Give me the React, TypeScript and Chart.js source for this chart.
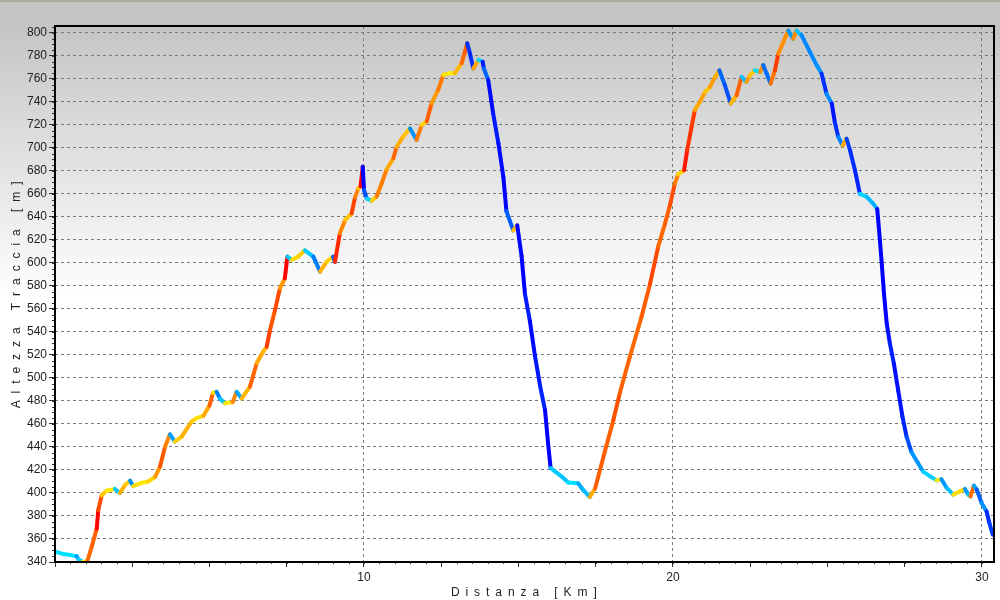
import React, { useEffect, useRef } from "react";
import { Chart, registerables } from "chart.js";

Chart.register(...registerables);

// ---- data ----
const distanceKm = [
  0.0, 0.26, 0.5, 0.7, 0.75, 0.9, 1.05, 1.19, 1.35, 1.4, 1.51, 1.67, 1.94, 2.1, 2.27, 2.43, 2.53, 2.75,
  3.02, 3.24, 3.4, 3.56, 3.72, 3.88, 4.1, 4.42, 4.58, 4.8, 5.0, 5.11, 5.23, 5.34, 5.5, 5.75, 5.88, 6.04,
  6.31, 6.53, 6.74, 6.85, 6.96, 7.12, 7.28, 7.44, 7.52, 7.66, 7.87, 8.09, 8.36, 8.58, 8.79, 9.0, 9.06,
  9.22, 9.39, 9.6, 9.71, 9.82, 9.89, 9.96, 10.0, 10.09, 10.25, 10.41, 10.57, 10.73, 10.95, 11.06, 11.27,
  11.49, 11.7, 11.87, 12.03, 12.19, 12.4, 12.57, 12.78, 12.94, 13.16, 13.27, 13.34, 13.43, 13.54, 13.7,
  13.84, 13.88, 14.02, 14.18, 14.35, 14.51, 14.61, 14.83, 14.96, 15.1, 15.21, 15.37, 15.53, 15.7, 15.86,
  15.96, 16.04, 16.18, 16.4, 16.61, 16.93, 17.1, 17.31, 17.48, 17.8, 18.07, 18.28, 18.6, 18.98, 19.26,
  19.52, 19.74, 19.9, 20.06, 20.17, 20.36, 20.46, 20.6, 20.71, 20.87, 21.04, 21.2, 21.36, 21.5, 21.68,
  21.87, 22.06, 22.22, 22.38, 22.49, 22.65, 22.82, 22.92, 23.03, 23.16, 23.3, 23.41, 23.57, 23.73, 23.89,
  24.0, 24.16, 24.43, 24.65, 24.81, 24.97, 25.14, 25.24, 25.35, 25.49, 25.62, 25.73, 25.89, 26.05, 26.27,
  26.48, 26.61, 26.68, 26.75, 26.83, 26.92, 27.02, 27.15, 27.29, 27.43, 27.56, 27.72, 27.92, 28.1, 28.35,
  28.53, 28.69, 28.86, 29.07, 29.29, 29.45, 29.56, 29.63, 29.74, 29.83, 29.99, 30.15, 30.24, 30.35,
];

const elevationM = [
  349, 347, 346, 345, 342.6, 340, 341, 353.5, 369, 385, 398, 402, 403.5, 400, 407, 410.7, 406, 408.4,
  410, 414, 423, 440, 451, 444.6, 449, 462, 465, 467, 476, 487, 488, 482, 478, 479, 488, 482,
  492.5, 513, 523, 527, 541.7, 559, 578, 586.7, 605.5, 602.6, 605.5, 611, 605.5, 592.5, 601, 605.5, 601,
  625.8, 637.4, 643, 657, 665, 666.4, 683.7, 663.5, 656, 654, 657.7, 669, 681, 691, 701, 710,
  717, 707, 720, 723, 739, 750.4, 763.5, 765, 765, 773.6, 783.7, 791, 782, 769, 776.5,
  775, 769, 759, 730, 704, 675, 645, 628.3, 632.7, 606, 573, 549.5, 519.8, 493, 472,
  442.5, 421.7, 418.8, 414.3, 409.2, 408.4, 402.4, 396.5, 403.9, 436.6, 463.3, 487, 518, 553, 582,
  614, 634, 650, 669, 677, 680.6, 698, 718, 733, 740, 748.7, 753, 761.7, 767.5, 754.5,
  738.6, 745.8, 761.7, 757.4, 763, 767.5, 766, 772, 764.6, 756, 767.5, 782, 792, 802, 795,
  802, 798, 783.5, 772, 764.6, 747, 738.6, 722, 709.6, 702, 708, 698, 680.6, 660, 657.4,
  651.6, 647, 625.5, 602, 573, 547, 530, 512.5, 489, 466, 449, 435.5, 426.5, 418.5, 414,
  411, 412, 404.4, 398.6, 401.4, 403.5, 398.6, 397, 406.4, 403, 391.3, 384, 374, 363.8,
];

const xLabelledTicks = [10, 20, 30];
const xTickStep = 2.5;
const yTickStep = 20;
const xRange = [0, 30.39];
const yRange = [340, 806];
const X_TITLE = "D i s t a n z a   [ K m ]";
const Y_TITLE = "A l t e z z a   T r a c c i a   [ m ]";

// ---- styling helpers ----
type RGB = [number, number, number];
const warmStops: [number, RGB][] = [
  [0, [255, 238, 0]],
  [3, [255, 195, 0]],
  [6, [255, 145, 0]],
  [9, [255, 105, 0]],
  [13, [255, 65, 0]],
  [17, [255, 25, 0]],
  [22, [255, 0, 0]],
];
const coolStops: [number, RGB][] = [
  [0, [0, 230, 255]],
  [2, [0, 205, 255]],
  [5, [0, 140, 255]],
  [10, [0, 50, 255]],
  [20, [0, 0, 255]],
];

function interp(stops: [number, RGB][], v: number): string {
  if (v <= stops[0][0]) return `rgb(${stops[0][1].join(",")})`;
  for (let i = 1; i < stops.length; i++) {
    if (v <= stops[i][0]) {
      const [a, ca] = stops[i - 1];
      const [b, cb] = stops[i];
      const t = (v - a) / (b - a);
      const c = ca.map((x, k) => Math.round(x + (cb[k] - x) * t));
      return `rgb(${c.join(",")})`;
    }
  }
  return `rgb(${stops[stops.length - 1][1].join(",")})`;
}

function gradeColor(x0: number, y0: number, x1: number, y1: number): string {
  const dx = (x1 - x0) * 1000;
  const g = dx > 0 ? ((y1 - y0) / dx) * 100 : 0;
  return g >= 0 ? interp(warmStops, g) : interp(coolStops, -g);
}

const FONT_FAMILY = '"Liberation Sans", Arial, sans-serif';

const framePlugin = {
  id: "frameAndTitles",
  afterDraw(chart: any) {
    const { ctx, chartArea, scales } = chart;
    const { left, top, right, bottom } = chartArea;
    ctx.save();
    // minor ticks
    ctx.strokeStyle = "#333";
    ctx.lineWidth = 1;
    const ys = scales.y;
    for (let v = yRange[0]; v <= yRange[1]; v += 5) {
      const p = Math.round(ys.getPixelForValue(v)) + 0.5;
      ctx.beginPath();
      ctx.moveTo(left - 3, p);
      ctx.lineTo(left, p);
      ctx.stroke();
    }
    const xs = scales.x;
    for (let v = xRange[0]; v <= xRange[1]; v += 0.5) {
      const p = Math.round(xs.getPixelForValue(v)) + 0.5;
      ctx.beginPath();
      ctx.moveTo(p, bottom);
      ctx.lineTo(p, bottom + 2);
      ctx.stroke();
    }
    // frame
    ctx.strokeStyle = "#000";
    ctx.lineWidth = 2;
    ctx.strokeRect(left, top, right - left, bottom - top);
    // titles
    ctx.fillStyle = "#222";
    ctx.font = `12px ${FONT_FAMILY}`;
    ctx.textAlign = "center";
    ctx.textBaseline = "middle";
    (ctx as any).letterSpacing = "1.3px";
    ctx.fillText(X_TITLE, (left + right) / 2, chart.height - 7);
    (ctx as any).letterSpacing = "1.8px";
    ctx.translate(17, (top + bottom) / 2);
    ctx.rotate(-Math.PI / 2);
    ctx.fillText(Y_TITLE, 0, 0);
    (ctx as any).letterSpacing = "0px";
    ctx.restore();
  },
};

export default function App() {
  const canvasRef = useRef<HTMLCanvasElement | null>(null);

  useEffect(() => {
    const canvas = canvasRef.current;
    if (!canvas) return;
    const points = distanceKm.map((x, i) => ({ x, y: elevationM[i] }));
    const chart = new Chart(canvas, {
      type: "line",
      data: {
        datasets: [
          {
            data: points,
            borderWidth: 4,
            borderCapStyle: "round",
            borderJoinStyle: "round",
            pointRadius: 0,
            tension: 0,
            fill: false,
            borderColor: "#ff8000",
            segment: {
              borderColor: (c: any) =>
                gradeColor(c.p0.parsed.x, c.p0.parsed.y, c.p1.parsed.x, c.p1.parsed.y),
            },
          } as any,
        ],
      },
      options: {
        animation: false,
        responsive: false,
        maintainAspectRatio: false,
        layout: { padding: { top: 26, right: 6, left: 0, bottom: 0 } },
        plugins: {
          legend: { display: false },
          tooltip: { enabled: false },
          title: { display: false },
        },
        scales: {
          x: {
            type: "linear",
            min: xRange[0],
            max: xRange[1],
            afterFit: (s: any) => {
              s.height = 38;
            },
            border: { display: false, dash: [3, 3] },
            grid: {
              color: (c: any) =>
                c.tick && xLabelledTicks.some((t) => Math.abs(t - c.tick.value) < 1e-6)
                  ? "#7a7a7a"
                  : "rgba(0,0,0,0)",
              tickColor: "#333",
              tickLength: 5,
              lineWidth: 1,
            } as any,
            ticks: {
              stepSize: xTickStep,
              includeBounds: false,
              autoSkip: false,
              maxRotation: 0,
              padding: 3,
              color: "#222",
              font: { family: FONT_FAMILY, size: 12 },
              callback: (v: any) =>
                xLabelledTicks.some((t) => Math.abs(t - Number(v)) < 1e-6) ? String(Math.round(Number(v))) : "",
            },
          },
          y: {
            type: "linear",
            min: yRange[0],
            max: yRange[1],
            afterFit: (s: any) => {
              s.width = 55;
            },
            border: { display: false, dash: [3, 3] },
            grid: {
              color: "#7a7a7a",
              tickColor: "#333",
              tickLength: 6,
              lineWidth: 1,
            } as any,
            ticks: {
              stepSize: yTickStep,
              includeBounds: false,
              autoSkip: false,
              padding: 2,
              color: "#222",
              font: { family: FONT_FAMILY, size: 12 },
            },
          },
        },
      },
      plugins: [framePlugin],
    } as any);
    return () => chart.destroy();
  }, []);

  return (
    <div
      style={{
        position: "absolute",
        left: 0,
        top: 0,
        width: 1000,
        height: 600,
        background:
          "linear-gradient(to bottom, #aba89f 0px, #aba89f 2px, #c4c4c4 2px, #c4c4c4 22px, #ffffff 300px, #ffffff 600px)",
      }}
    >
      <canvas ref={canvasRef} width={1000} height={600} style={{ display: "block" }} />
    </div>
  );
}
